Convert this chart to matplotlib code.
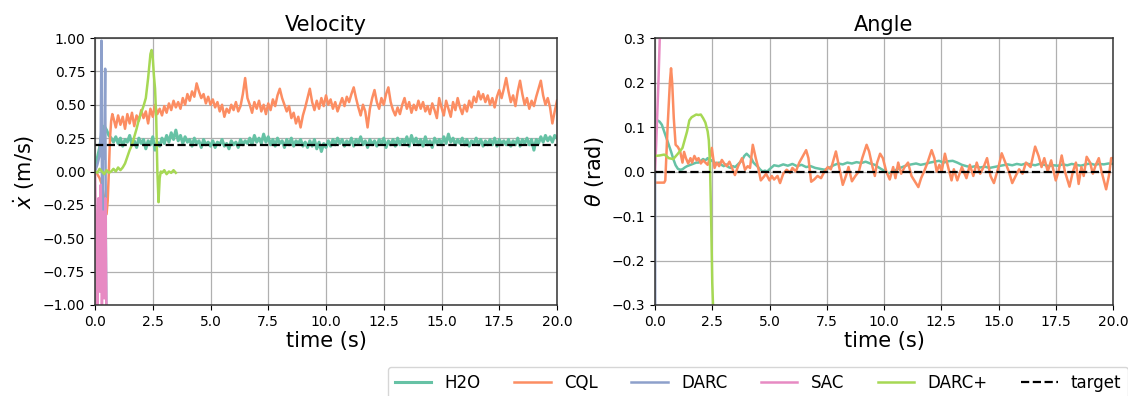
import numpy as np
import matplotlib
matplotlib.use("Agg")
import matplotlib.pyplot as plt

# ---------------- data ----------------
labels = ["H2O", "CQL", "DARC", "SAC", "DARC+", "target"]
colors = ["#66c2a5", "#fc8d62", "#8da0cb", "#e78ac3", "#a6d854", "black"]

target_vel = 0.2
target_ang = 0.0

# Velocity panel
h2o_vel = [0.05, 0.10, 0.18, 0.29, 0.34, 0.31, 0.27, 0.25, 0.22, 0.26, 0.21,
           0.25, 0.19, 0.24, 0.22, 0.27, 0.20, 0.23, 0.18, 0.25, 0.21,
           0.24, 0.17, 0.23, 0.20, 0.26, 0.16, 0.22, 0.19, 0.25, 0.21,
           0.27, 0.22, 0.29, 0.24, 0.31, 0.23, 0.27, 0.21, 0.26, 0.22,
           0.24, 0.19, 0.25, 0.21, 0.23, 0.18, 0.24, 0.20, 0.22, 0.19,
           0.23, 0.18, 0.22, 0.20, 0.24, 0.19, 0.21, 0.17, 0.23, 0.20,
           0.22, 0.18, 0.24, 0.20, 0.23, 0.21, 0.25, 0.20, 0.27, 0.22,
           0.25, 0.21, 0.28, 0.22, 0.26, 0.20, 0.24, 0.19, 0.25, 0.21,
           0.23, 0.18, 0.24, 0.20, 0.25, 0.19, 0.23, 0.21, 0.24, 0.19,
           0.22, 0.18, 0.23, 0.19, 0.24, 0.17, 0.22, 0.15, 0.21, 0.18,
           0.23, 0.19, 0.24, 0.20, 0.25, 0.21, 0.24, 0.19, 0.23, 0.20,
           0.25, 0.19, 0.24, 0.21, 0.26, 0.20, 0.23, 0.18, 0.24, 0.20,
           0.23, 0.19, 0.24, 0.21, 0.25, 0.18, 0.23, 0.20, 0.24, 0.19,
           0.25, 0.20, 0.24, 0.21, 0.26, 0.19, 0.27, 0.21, 0.25, 0.20,
           0.24, 0.19, 0.26, 0.20, 0.23, 0.18, 0.25, 0.21, 0.24, 0.20,
           0.26, 0.21, 0.28, 0.22, 0.25, 0.20, 0.24, 0.21, 0.25, 0.20,
           0.24, 0.19, 0.23, 0.21, 0.25, 0.20, 0.24, 0.19, 0.23, 0.20,
           0.24, 0.20, 0.25, 0.19, 0.24, 0.21, 0.23, 0.20, 0.24, 0.19,
           0.23, 0.20, 0.25, 0.19, 0.24, 0.21, 0.25, 0.20, 0.24, 0.16,
           0.24, 0.21, 0.26, 0.22, 0.27, 0.23, 0.26, 0.22, 0.27, 0.25]

cql_vel_start_t = [0.0, 0.1, 0.2, 0.3, 0.4, 0.5, 0.55, 0.6, 0.65, 0.7, 0.75]
cql_vel_start = [0.0, -0.02, -0.05, -0.10, -0.20, -0.32, -0.22, 0.0, 0.25, 0.38, 0.43]
cql_vel = [0.40, 0.33, 0.42,
           0.35, 0.41, 0.32, 0.43, 0.36, 0.44, 0.34, 0.42, 0.38, 0.46,
           0.40, 0.45, 0.36, 0.47, 0.41, 0.50, 0.43, 0.47, 0.42, 0.49,
           0.44, 0.51, 0.46, 0.53, 0.48, 0.52, 0.47, 0.55, 0.50, 0.58,
           0.53, 0.60, 0.56, 0.66, 0.60, 0.55, 0.58, 0.51, 0.56, 0.50,
           0.54, 0.48, 0.52, 0.45, 0.50, 0.41, 0.47, 0.44, 0.50, 0.46,
           0.52, 0.45, 0.49, 0.58, 0.70, 0.55, 0.50, 0.44, 0.52, 0.47,
           0.53, 0.45, 0.50, 0.43, 0.51, 0.46, 0.54, 0.49, 0.57, 0.62,
           0.55, 0.50, 0.45, 0.49, 0.40, 0.44, 0.36, 0.41, 0.33, 0.42,
           0.48, 0.55, 0.62, 0.52, 0.46, 0.53, 0.47, 0.55, 0.49, 0.57,
           0.50, 0.54, 0.47, 0.52, 0.45, 0.50, 0.55, 0.49, 0.56, 0.52,
           0.58, 0.63, 0.55, 0.48, 0.42, 0.50, 0.45, 0.33, 0.47, 0.55,
           0.61, 0.52, 0.47, 0.55, 0.50, 0.58, 0.63, 0.52, 0.46, 0.42,
           0.48, 0.43, 0.50, 0.55, 0.47, 0.52, 0.44, 0.50, 0.46, 0.53,
           0.47, 0.52, 0.45, 0.49, 0.43, 0.51, 0.46, 0.40, 0.55, 0.48,
           0.42, 0.53, 0.47, 0.41, 0.52, 0.46, 0.55, 0.48, 0.43, 0.50,
           0.45, 0.53, 0.48, 0.56, 0.52, 0.60, 0.54, 0.58, 0.52, 0.57,
           0.50, 0.55, 0.48, 0.56, 0.61, 0.55, 0.62, 0.70, 0.60, 0.52,
           0.57, 0.49, 0.60, 0.68, 0.58, 0.50, 0.55, 0.47, 0.53, 0.49,
           0.56, 0.62, 0.68, 0.57, 0.50, 0.55, 0.48, 0.36, 0.45, 0.53]

darc_vel_t = [0.0, 0.1, 0.2, 0.25, 0.28, 0.31, 0.35, 0.40, 0.44, 0.47, 0.50]
darc_vel = [0.0, 0.05, 0.12, 0.30, 0.98, -0.60, 0.30, 0.10, 0.77, -0.50, -1.20]

sac_vel_t = [0.0, 0.05, 0.1, 0.15, 0.2, 0.25, 0.3, 0.35, 0.4, 0.45, 0.5]
sac_vel = [0.0, -0.5, -1.1, -0.2, -0.9, -0.1, -1.0, -0.3, -0.95, -0.2, -1.2]

darcp_vel_t = [0.0, 0.1, 0.2, 0.3, 0.4, 0.5, 0.6, 0.7, 0.8, 0.9, 1.0, 1.1, 1.2, 1.3,
               1.4, 1.5, 1.6, 1.7, 1.8, 1.9, 2.0, 2.1, 2.2, 2.3, 2.4, 2.45, 2.5,
               2.55, 2.6, 2.65, 2.7, 2.75, 2.8, 2.85, 2.9, 3.0, 3.1, 3.2, 3.3, 3.4, 3.5]
darcp_vel = [0.0, -0.01, 0.02, 0.0, -0.02, 0.01, -0.01, 0.0, 0.02, 0.0, 0.03, 0.01, 0.03, 0.06,
             0.11, 0.16, 0.20, 0.26, 0.32, 0.39, 0.44, 0.49, 0.55, 0.70, 0.88, 0.91, 0.85,
             0.72, 0.62, 0.40, 0.0, -0.23, -0.05, 0.0, -0.01, 0.01, -0.02, 0.0, -0.01, 0.01, -0.01]

# Angle panel
h2o_ang_a = [0.110, 0.115, 0.112, 0.105, 0.090, 0.075, 0.060, 0.045, 0.028, 0.014,
             0.006, 0.004, 0.005, 0.009, 0.012, 0.014, 0.016, 0.018, 0.020, 0.020,
             0.024, 0.028, 0.025, 0.030, 0.022, 0.026, 0.020, 0.018, 0.020, 0.015,
             0.012, 0.016, 0.010, 0.008, 0.012, 0.010, 0.015, 0.020, 0.025, 0.035,
             0.040, 0.035, 0.030, 0.020, 0.015, 0.010, 0.004, 0.000, 0.002, 0.000,
             0.005]
h2o_ang_b = [0.014, 0.012, 0.016, 0.013, 0.017, 0.012, 0.015, 0.010, 0.012, 0.008,
             0.006, 0.004, 0.008, 0.014, 0.018, 0.016, 0.020, 0.018, 0.021, 0.019,
             0.022, 0.018, 0.015, 0.008, 0.002, -0.004, 0.000, 0.006, 0.010, 0.014,
             0.016, 0.018, 0.015, 0.017, 0.020, 0.022, 0.024, 0.020, 0.023, 0.024,
             0.020, 0.015, 0.012, 0.010, 0.012, 0.009, 0.011, 0.008, 0.010, 0.012,
             0.014, 0.016, 0.014, 0.017, 0.015, 0.018, 0.016, 0.014, 0.017, 0.015,
             0.012, 0.014, 0.013, 0.016, 0.014, 0.017, 0.015, 0.013, 0.016, 0.018,
             0.015, 0.017, 0.016, 0.018, 0.017]

cql_ang_t = [0.0, 0.2, 0.4, 0.45, 0.55, 0.65, 0.7, 0.75, 0.82, 0.9, 1.0, 1.1, 1.2, 1.27,
             1.35, 1.45, 1.55, 1.62, 1.72, 1.82, 1.9, 2.0, 2.1, 2.2, 2.3, 2.4, 2.48, 2.6,
             2.7, 2.8, 2.92, 3.02, 3.13, 3.25, 3.35, 3.49, 3.63, 3.8, 3.93, 4.05, 4.15,
             4.27, 4.4, 4.5, 4.62, 4.75, 4.85, 5.0, 5.1, 5.2, 5.35, 5.46, 5.6, 5.75, 5.9,
             6.0, 6.15, 6.3, 6.45, 6.6, 6.7, 6.82, 6.95, 7.1, 7.25, 7.4, 7.55, 7.68, 7.9,
             8.02, 8.2, 8.35, 8.45, 8.6, 8.75, 8.9, 9.05, 9.24, 9.35, 9.5, 9.6, 9.7, 9.83,
             9.95, 10.1, 10.25, 10.4, 10.5, 10.62, 10.75, 10.9, 11.05, 11.2, 11.5, 11.62,
             11.75, 11.9, 12.08, 12.2, 12.3, 12.42, 12.52, 12.66, 12.8, 12.95, 13.05, 13.2,
             13.4, 13.6, 13.75, 13.9, 14.05, 14.2, 14.35, 14.5, 14.65, 14.8, 15.0, 15.14,
             15.3, 15.45, 15.6, 15.75, 15.9, 16.05, 16.2, 16.4, 16.6, 16.75, 16.88, 17.0,
             17.15, 17.3, 17.5, 17.62, 17.76, 17.9, 18.1, 18.25, 18.38, 18.5, 18.62, 18.72,
             18.85, 19.0, 19.12, 19.25, 19.38, 19.5, 19.7, 19.82, 19.92, 20.0]
cql_ang = [-0.025, -0.025, -0.025, -0.02, 0.10, 0.20, 0.232, 0.20, 0.12, 0.06, 0.055, 0.045, 0.02, 0.044,
           0.03, 0.018, 0.03, 0.02, 0.035, 0.025, 0.03, 0.018, 0.025, 0.02, 0.015, 0.03, 0.053, 0.008,
           0.02, 0.012, 0.026, 0.018, 0.012, 0.022, 0.01, -0.008, 0.012, 0.03, 0.004, 0.012, 0.008,
           0.06, 0.03, 0.01, -0.02, -0.012, -0.005, -0.02, -0.01, -0.018, -0.01, -0.026, -0.005, 0.004, -0.003,
           0.008, 0.0, 0.02, 0.034, 0.048, 0.03, -0.023, -0.018, -0.01, -0.015, 0.0, 0.01, 0.005, 0.045,
           0.015, -0.03, -0.008, 0.01, -0.022, -0.01, 0.0, 0.03, 0.06, 0.045, 0.01, -0.01, 0.02, 0.04,
           0.03, 0.0, -0.018, 0.01, -0.015, 0.02, -0.005, 0.01, 0.02, -0.01, -0.035, -0.015,
           0.0, 0.02, 0.048, 0.03, 0.0, 0.015, 0.0, 0.04, 0.01, -0.02, 0.005, -0.02,
           0.01, -0.015, 0.015, -0.01, 0.02, -0.005, 0.01, 0.03, -0.01, -0.026, 0.01, 0.041,
           0.02, 0.0, -0.026, -0.01, 0.005, -0.005, 0.02, 0.01, 0.056, 0.035, 0.01, 0.03,
           0.0, 0.025, -0.02, 0.0, 0.036, 0.0, -0.034, 0.0, 0.02, -0.028, 0.01, -0.01,
           0.033, 0.02, -0.005, 0.015, 0.03, 0.0, -0.04, -0.01, 0.03, 0.03]

darc_ang_t = [0.0, 0.01]
darc_ang = [0.0, -0.5]

sac_ang_t = [0.0, 0.05, 0.1, 0.15, 0.22, 0.25]
sac_ang = [0.0, 0.06, 0.13, 0.20, 0.32, 0.35]

darcp_ang_t = [0.0, 0.2, 0.4, 0.5, 0.6, 0.8, 1.0, 1.2, 1.4, 1.5, 1.6, 1.7, 1.8, 1.9,
               2.0, 2.1, 2.2, 2.3, 2.35, 2.4, 2.45, 2.5, 2.6]
darcp_ang = [0.035, 0.036, 0.038, 0.035, 0.030, 0.028, 0.040, 0.053, 0.090, 0.115, 0.122,
             0.125, 0.128, 0.127, 0.128, 0.120, 0.110, 0.090, 0.070, 0.020, -0.10, -0.25, -0.40]

# ---------------- plotting ----------------
W, H = 1128, 396
fig = plt.figure(figsize=(W / 100, H / 100), dpi=100)
ax1 = fig.add_axes([95 / W, 1 - 305 / H, 462 / W, 267 / H])
ax2 = fig.add_axes([655 / W, 1 - 305 / H, 458 / W, 267 / H])

lw = 1.8
t_h2o_vel = np.linspace(0.0, 20.0, len(h2o_vel))
t_cql_vel = np.concatenate([cql_vel_start_t, np.linspace(0.8, 20.0, len(cql_vel))])
v_cql_vel = np.concatenate([cql_vel_start, cql_vel])

l_h2o, = ax1.plot(t_h2o_vel, h2o_vel, color=colors[0], lw=2.2)
l_cql, = ax1.plot(t_cql_vel, v_cql_vel, color=colors[1], lw=lw)
l_darc, = ax1.plot(darc_vel_t, darc_vel, color=colors[2], lw=lw)
l_sac, = ax1.plot(sac_vel_t, sac_vel, color=colors[3], lw=lw)
l_darcp, = ax1.plot(darcp_vel_t, darcp_vel, color=colors[4], lw=lw)
l_tgt, = ax1.plot([0, 20], [target_vel, target_vel], color="black", lw=1.6, ls="--")

t_h2o_ang = np.concatenate([np.linspace(0.0, 5.0, len(h2o_ang_a)),
                            np.linspace(5.2, 20.0, len(h2o_ang_b))])
v_h2o_ang = np.concatenate([h2o_ang_a, h2o_ang_b])
ax2.plot(t_h2o_ang, v_h2o_ang, color=colors[0], lw=lw)
ax2.plot(cql_ang_t, cql_ang, color=colors[1], lw=lw)
ax2.plot(darc_ang_t, darc_ang, color=colors[2], lw=lw)
ax2.plot(sac_ang_t, sac_ang, color=colors[3], lw=lw)
ax2.plot(darcp_ang_t, darcp_ang, color=colors[4], lw=lw)
ax2.plot([0, 20], [target_ang, target_ang], color="black", lw=1.6, ls="--")

ax1.set_ylim(-1.0, 1.0)
ax1.set_yticks(np.arange(-1.0, 1.01, 0.25))
ax2.set_ylim(-0.3, 0.3)
ax2.set_yticks(np.arange(-0.3, 0.31, 0.1))

for ax, title, ylab in [(ax1, "Velocity", r"$\dot{x}$ (m/s)"),
                        (ax2, "Angle", r"$\theta$ (rad)")]:
    ax.set_xlim(0, 20)
    ax.set_xticks(np.arange(0, 20.01, 2.5))
    ax.grid(True, color="#b0b0b0", lw=0.9)
    ax.set_axisbelow(True)
    ax.tick_params(labelsize=10)
    ax.set_title(title, fontsize=15, pad=5)
    ax.set_xlabel("time (s)", fontsize=15, labelpad=2)
    ax.set_ylabel(ylab, fontsize=15)
    for sp in ax.spines.values():
        sp.set_color("#333333")
        sp.set_linewidth(1.1)

fig.legend([l_h2o, l_cql, l_darc, l_sac, l_darcp, l_tgt], labels,
           loc="upper left", bbox_to_anchor=(388 / W, 1 - 367 / H),
           bbox_transform=fig.transFigure, ncol=6, fontsize=12,
           handlelength=2.2, columnspacing=2.0, borderaxespad=0)

fig.savefig("out.png", dpi=100)
